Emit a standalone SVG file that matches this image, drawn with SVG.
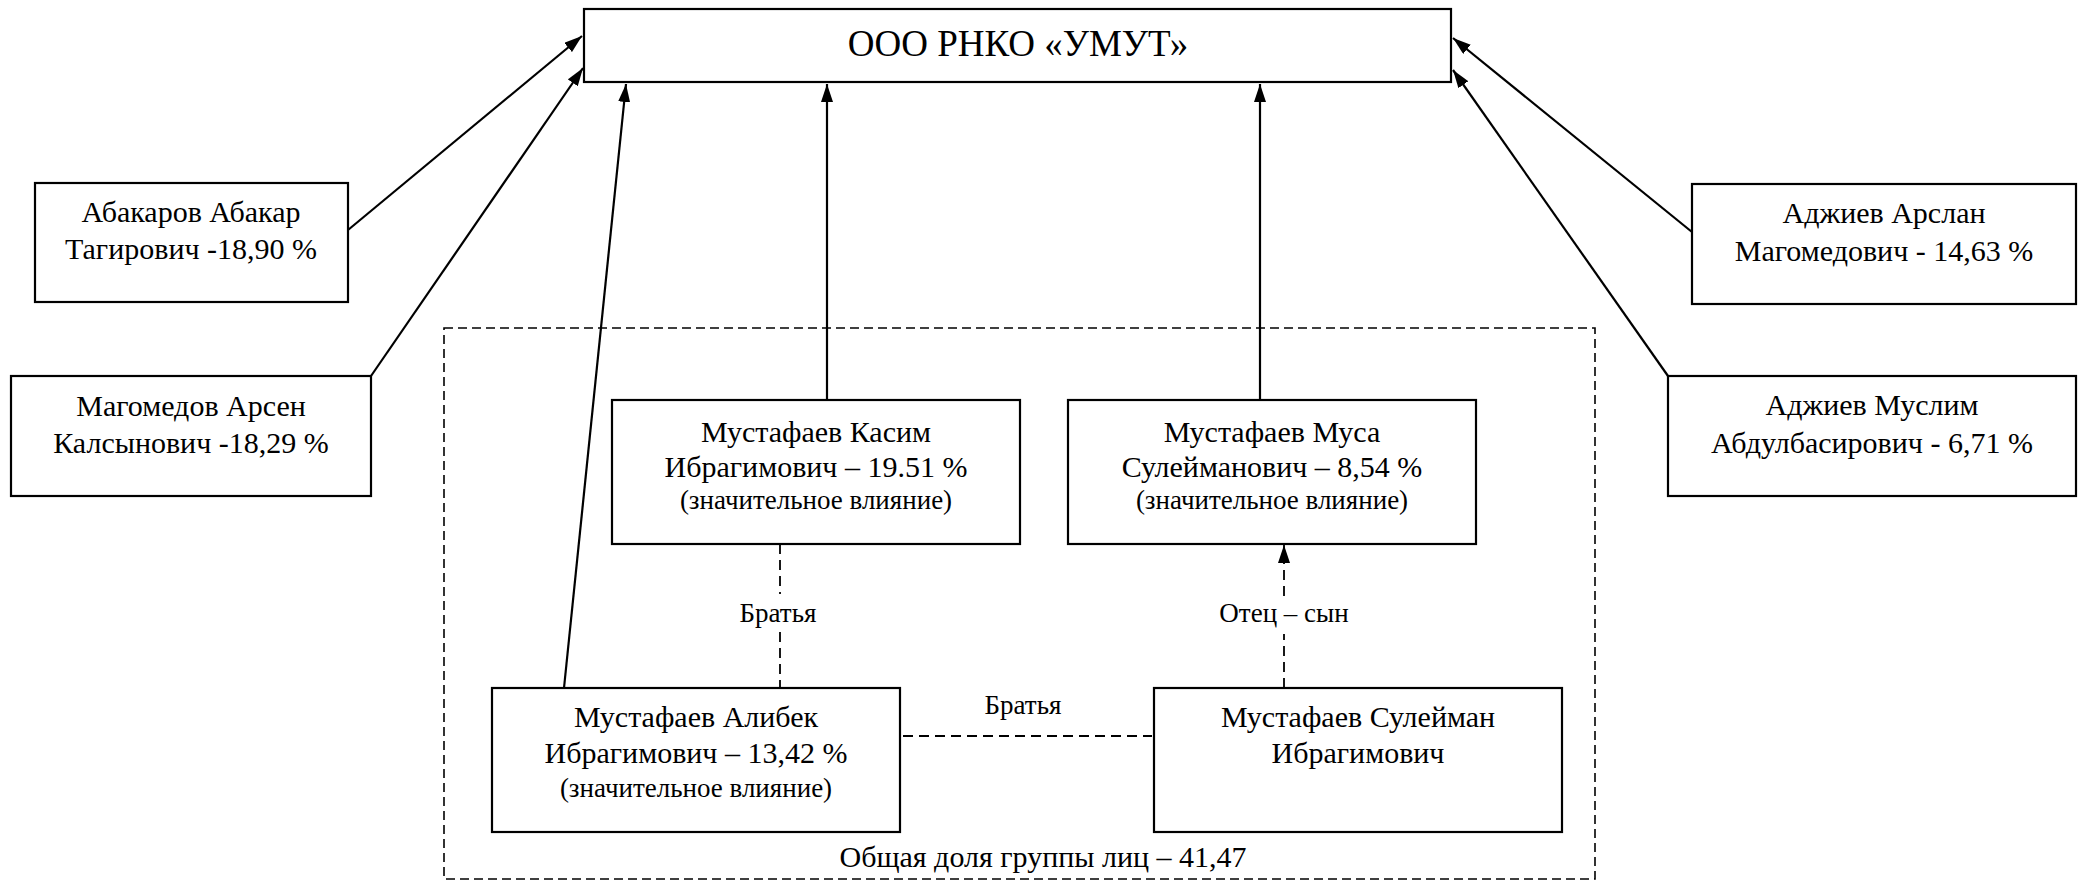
<svg xmlns="http://www.w3.org/2000/svg" width="2085" height="884" viewBox="0 0 2085 884">
<style>
.box{fill:#fff;stroke:#000;stroke-width:2.2}
.grp{fill:none;stroke:#000;stroke-width:1.6;stroke-dasharray:9 5}
text{font-family:"Liberation Serif","Times New Roman",Times,Tinos,"Noto Serif","Nimbus Roman","FreeSerif","DejaVu Serif",serif;font-size:30px;fill:#000;text-anchor:middle}
text.s{font-size:27px}
text.big{font-size:37px}
.ln{fill:none;stroke:#000;stroke-width:2.2}
.dl{fill:none;stroke:#000;stroke-width:1.8;stroke-dasharray:10 6}
</style>
<defs>
<marker id="arr" viewBox="0 0 18 12" refX="18" refY="6" markerWidth="18" markerHeight="12" markerUnits="userSpaceOnUse" orient="auto">
<path d="M0,0 L18,6 L0,12 z" fill="#000"/>
</marker>
</defs>
<rect class="grp" x="444" y="328" width="1151" height="551"/>
<g id="connectors">
<line class="ln" x1="348" y1="230" x2="582" y2="36" marker-end="url(#arr)"/>
<line class="ln" x1="371" y1="376" x2="583" y2="68" marker-end="url(#arr)"/>
<line class="ln" x1="1692" y1="232" x2="1453" y2="38" marker-end="url(#arr)"/>
<line class="ln" x1="1668" y1="376" x2="1453" y2="70" marker-end="url(#arr)"/>
<line class="ln" x1="564" y1="688" x2="626" y2="84" marker-end="url(#arr)"/>
<line class="ln" x1="827" y1="400" x2="827" y2="84" marker-end="url(#arr)"/>
<line class="ln" x1="1260" y1="400" x2="1260" y2="84" marker-end="url(#arr)"/>
<line class="dl" x1="780" y1="544" x2="780" y2="594"/>
<line class="dl" x1="780" y1="632" x2="780" y2="688"/>
<line class="dl" x1="1284" y1="688" x2="1284" y2="634"/>
<line class="dl" x1="1284" y1="596" x2="1284" y2="545" marker-end="url(#arr)"/>
<line class="dl" x1="903" y1="736" x2="1152" y2="736"/>
<text class="s" x="778" y="622">Братья</text>
<text class="s" x="1284" y="622">Отец – сын</text>
<text class="s" x="1023" y="714">Братья</text>
</g>
<g id="top">
<rect class="box" x="584" y="9" width="867" height="73"/>
<text class="big" x="1018" y="56">ООО РНКО «УМУТ»</text>
</g>
<g id="abakarov">
<rect class="box" x="35" y="183" width="313" height="119"/>
<text x="191" y="222">Абакаров Абакар</text>
<text x="191" y="259">Тагирович -18,90 %</text>
</g>
<g id="magomedov">
<rect class="box" x="11" y="376" width="360" height="120"/>
<text x="191" y="416">Магомедов Арсен</text>
<text x="191" y="453">Калсынович -18,29 %</text>
</g>
<g id="adzhiev-arslan">
<rect class="box" x="1692" y="184" width="384" height="120"/>
<text x="1884" y="223">Аджиев Арслан</text>
<text x="1884" y="261">Магомедович - 14,63 %</text>
</g>
<g id="adzhiev-muslim">
<rect class="box" x="1668" y="376" width="408" height="120"/>
<text x="1872" y="415">Аджиев Муслим</text>
<text x="1872" y="453">Абдулбасирович - 6,71 %</text>
</g>
<g id="kasim">
<rect class="box" x="612" y="400" width="408" height="144"/>
<text x="816" y="442">Мустафаев Касим</text>
<text x="816" y="477">Ибрагимович – 19.51 %</text>
<text class="s" x="816" y="509">(значительное влияние)</text>
</g>
<g id="musa">
<rect class="box" x="1068" y="400" width="408" height="144"/>
<text x="1272" y="442">Мустафаев Муса</text>
<text x="1272" y="477">Сулейманович – 8,54 %</text>
<text class="s" x="1272" y="509">(значительное влияние)</text>
</g>
<g id="alibek">
<rect class="box" x="492" y="688" width="408" height="144"/>
<text x="696" y="727">Мустафаев Алибек</text>
<text x="696" y="763">Ибрагимович – 13,42 %</text>
<text class="s" x="696" y="797">(значительное влияние)</text>
</g>
<g id="suleiman">
<rect class="box" x="1154" y="688" width="408" height="144"/>
<text x="1358" y="727">Мустафаев Сулейман</text>
<text x="1358" y="763">Ибрагимович</text>
</g>
<text x="1043" y="867">Общая доля группы лиц – 41,47</text>
</svg>
